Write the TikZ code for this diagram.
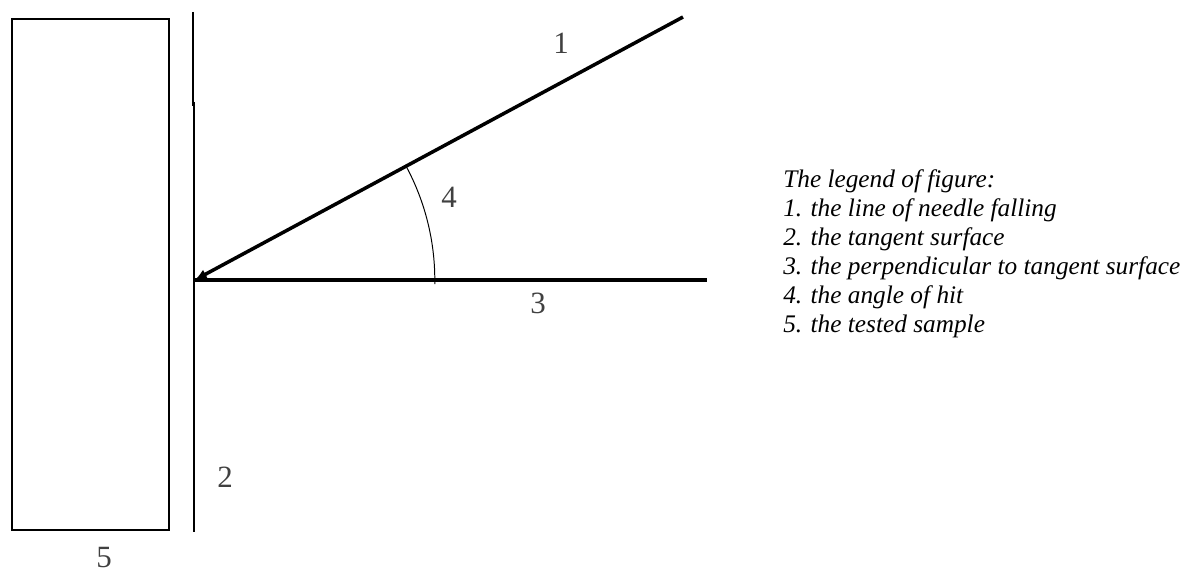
\documentclass[tikz,border=0pt]{standalone}
\usepackage{fontspec}
\setmainfont{Liberation Serif}
\usetikzlibrary{arrows.meta}

\begin{document}
\begin{tikzpicture}
\useasboundingbox (0,0) rectangle (29.525,14.35);
\tikzset{num/.style={text=black!75, font=\fontsize{22}{26}\selectfont, inner sep=0pt}}

\coordinate (O) at (4.87,7.35);
\coordinate (A) at (17.075,13.925);
\coordinate (B) at (17.675,7.35);

\draw[line width=1.3pt] (0.3,1.1) rectangle (4.225,13.875);
\draw[line width=1.3pt] (4.825,14.05) -- (4.825,11.7);
\draw[line width=1.4pt] (4.85,11.8) -- (4.85,1.05);

\draw[line width=2.5pt, -{Latex[length=0.3cm,width=0.26cm]}] (A) -- (O);
\draw[line width=2.5pt] (O) -- (B);
\draw[line width=0.7pt] (O) ++(-1:6) arc[start angle=-1, end angle=28.3, radius=6];

\node[num] (l1) at (14.025,13.275) {1};
\node[num] (l2) at (5.625,2.425) {2};
\node[num] (l3) at (13.45,6.775) {3};
\node[num] (l4) at (11.225,9.425) {4};
\node[num] (l5) at (2.6,0.4) {5};

\node[anchor=west, inner sep=0pt, align=left, font=\fontsize{18}{20.6}\selectfont\itshape] (legend) at (19.575,8.0)
  {The legend of figure:\\
   1. the line of needle falling\\
   2. the tangent surface\\
   3. the perpendicular to tangent surface\\
   4. the angle of hit\\
   5. the tested sample};
\end{tikzpicture}
\end{document}
